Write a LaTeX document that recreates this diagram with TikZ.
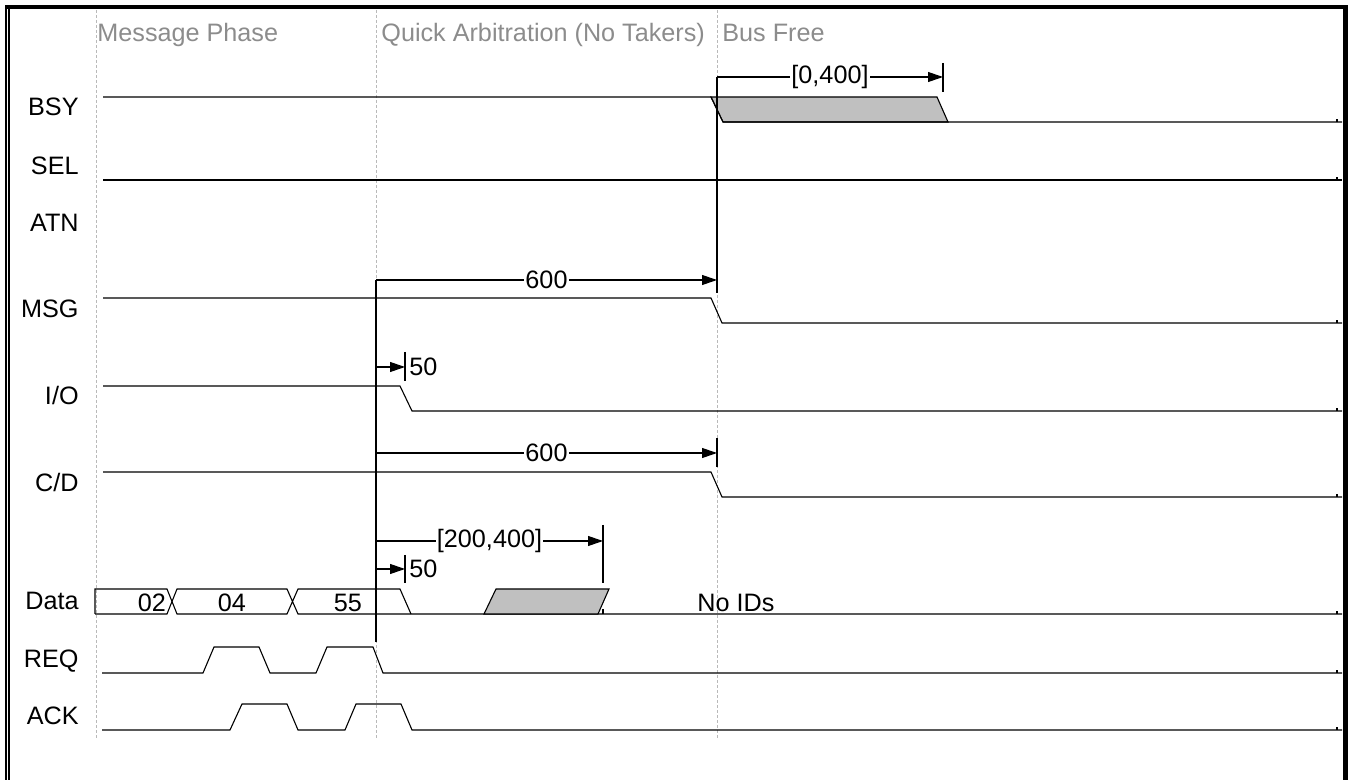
\documentclass[tikz,border=0pt]{standalone}
\usepackage{fontspec}
\setmainfont{Liberation Sans}
\usepackage{xcolor}
\usepackage{tikz}
\usetikzlibrary{arrows.meta, positioning, calc}

\definecolor{shadegray}{HTML}{C0C0C0}
\definecolor{phasegray}{HTML}{8C8C8C}

\begin{document}
\begin{tikzpicture}[
    x=0.5pt, y=-0.5pt,
    font=\fontsize{12.6}{15}\selectfont,
    sig/.style={line width=0.55pt, line join=miter},
    phaseline/.style={draw=gray!55, line width=0.4pt, dash pattern=on 1.5pt off 1pt},
    phasetext/.style={anchor=base west, text=phasegray, inner sep=0pt},
    siglabel/.style={anchor=base east, inner sep=0pt},
    busval/.style={anchor=base, inner sep=0pt},
    dimarrow/.style={-{Triangle[length=7.5pt, width=5pt]}, line width=0.55pt},
    dimtext/.style={fill=white, inner sep=0.6pt},
    dimtick/.style={line width=0.55pt},
    refline/.style={line width=0.9pt},
]
\useasboundingbox (0,0) rectangle (1351,780);

% frame
\draw[line width=2pt] (5,7) -- (1348,7);
\draw[line width=1pt] (6,6) -- (6,780);
\draw[line width=1pt] (9,6) -- (9,780);
\draw[line width=2.5pt] (1345.5,6) -- (1345.5,780);

% phases
\draw[phaseline] (96,10) -- (96,738);
\draw[phaseline] (376,10) -- (376,738);
\draw[phaseline] (717,10) -- (717,738);
\node[phasetext] (pmsg) at (97,42) {Message Phase};
\node[phasetext] (parb) at (381,42) {Quick Arbitration (No Takers)};
\node[phasetext] (pfree) at (722,42) {Bus Free};

% signal names
\node[siglabel] (bsy) at (79,116) {BSY};
\node[siglabel] (sel) at (79,175) {SEL};
\node[siglabel] (atn) at (79,232) {ATN};
\node[siglabel] (msg) at (79,318) {MSG};
\node[siglabel] (io) at (79,405) {I/O};
\node[siglabel] (cd) at (79,492) {C/D};
\node[siglabel] (data) at (79,610) {Data};
\node[siglabel] (req) at (79,668) {REQ};
\node[siglabel] (ack) at (79,725) {ACK};

% waveforms
\filldraw[sig, fill=shadegray] (711,97) -- (937,97) -- (948,122) -- (723,122) -- cycle;
\draw[sig] (103,97) -- (711,97) -- (723,122) -- (1342,122);
\draw[sig] (103,180) -- (1342,180);
\draw[sig] (103,298) -- (711,298) -- (722,323) -- (1342,323);
\draw[sig] (103,386) -- (400,386) -- (412,411) -- (1342,411);
\draw[sig] (103,472) -- (711,472) -- (722,497) -- (1342,497);
\draw[sig] (95,614) -- (95,589) -- (167,589) -- (172,601.5) -- (177,589) -- (287,589)
    -- (292.5,601.5) -- (298,589) -- (400,589) -- (411,614);
\draw[sig] (95,614) -- (167,614) -- (172,601.5) -- (177,614) -- (287,614)
    -- (292.5,601.5) -- (298,614) -- (1342,614);
\filldraw[sig, fill=shadegray] (484,614) -- (496,589) -- (609,589) -- (598,614) -- cycle;
\draw[sig] (102,673) -- (203,673) -- (214,647) -- (259,647) -- (270,673) -- (316,673)
    -- (327,647) -- (373,647) -- (383,673) -- (1342,673);
\draw[sig] (102,730) -- (230,730) -- (242,704) -- (287,704) -- (298,730) -- (345,730)
    -- (356,704) -- (401,704) -- (412,730) -- (1342,730);
\foreach \y in {122,180,323,411,497,614,673,730}
    \draw[sig] (1337,\y) -- (1337,\y-3);

\node[busval] (v02) at (152,612) {02};
\node[busval] (v04) at (232,612) {04};
\node[busval] (v55) at (348,612) {55};
\node[busval, anchor=base west] (noid) at (697,612) {No IDs};

% timing references
\coordinate (reqref) at (376,642);
\coordinate (msgref) at (376,280);
\coordinate (msgend) at (717,280);
\coordinate (ioa) at (376,367);
\coordinate (iob) at (405,367);
\coordinate (cda) at (376,453);
\coordinate (cdb) at (717,453);
\coordinate (sela) at (376,541);
\coordinate (selb) at (603,541);
\coordinate (dta) at (376,569);
\coordinate (dtb) at (405,569);
\coordinate (freea) at (717,77);
\coordinate (freeb) at (943,77);
\coordinate (freebot) at (717,293);

\draw[refline] (msgref) -- (reqref);
\draw[sig] (freea) -- (freebot);

\draw[dimarrow] (freea) -- node[dimtext] (d0) {[0,400]} (freeb);
\draw[dimtick] (943,63) -- (943,92);
\draw[dimarrow] (msgref) -- node[dimtext] (d1) {600} (msgend);
\draw[dimtick] (717,264) -- (717,293);
\draw[dimarrow] (ioa) -- (iob);
\draw[dimtick] (405,352) -- (405,381);
\node[anchor=west, inner sep=0pt] (d2) at (409,367) {50};
\draw[dimarrow] (cda) -- node[dimtext] (d3) {600} (cdb);
\draw[dimtick] (717,438) -- (717,467);
\draw[dimarrow] (sela) -- node[dimtext] (d4) {[200,400]} (selb);
\draw[dimtick] (603,525) -- (603,583);
\draw[dimtick] (603,609) -- (603,614);
\draw[dimarrow] (dta) -- (dtb);
\draw[dimtick] (405,555) -- (405,583);
\node[anchor=west, inner sep=0pt] (d5) at (409,569) {50};
\end{tikzpicture}
\end{document}
